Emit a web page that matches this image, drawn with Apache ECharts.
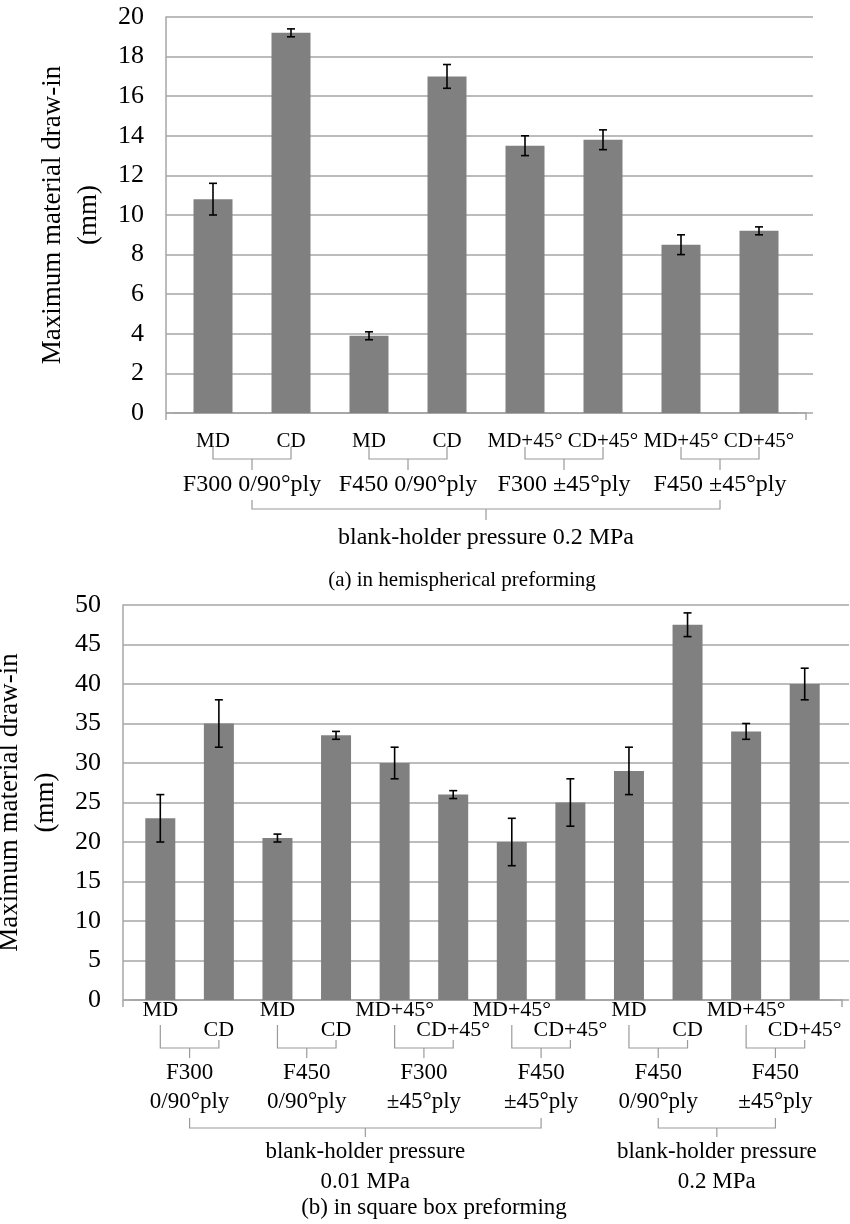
<!DOCTYPE html>
<html><head><meta charset="utf-8">
<script src="https://cdn.jsdelivr.net/npm/echarts@6/dist/echarts.min.js"></script>
<style>html,body{margin:0;padding:0;background:#fff}#c{width:850px;height:1224px}</style>
</head><body><div id="c"></div>
<script>
// ---------- data ----------
const yTitle = 'Maximum material draw-in\n(mm)';
// (a) hemispherical preforming
const catsA = ['MD','CD','MD','CD','MD+45°','CD+45°','MD+45°','CD+45°'];
const valsA = [10.8, 19.2, 3.9, 17.0, 13.5, 13.8, 8.5, 9.2];
const errA  = [0.8, 0.2, 0.2, 0.6, 0.5, 0.5, 0.5, 0.2];
const groupsA = ['F300 0/90°ply','F450 0/90°ply','F300 ±45°ply','F450 ±45°ply'];
const pressureA = 'blank-holder pressure 0.2 MPa';
const captionA = '(a) in hemispherical preforming';
const yMinA = 0, yMaxA = 20, yStepA = 2;
// (b) square box preforming
const catsB = ['MD','CD','MD','CD','MD+45°','CD+45°','MD+45°','CD+45°','MD','CD','MD+45°','CD+45°'];
const valsB = [23, 35, 20.5, 33.5, 30, 26, 20, 25, 29, 47.5, 34, 40];
const errB  = [3, 3, 0.5, 0.5, 2, 0.5, 3, 3, 3, 1.5, 1, 2];
const groupsB = ['F300\n0/90°ply','F450\n0/90°ply','F300\n±45°ply','F450\n±45°ply','F450\n0/90°ply','F450\n±45°ply'];
const pressuresB = ['blank-holder pressure\n0.01 MPa','blank-holder pressure\n0.2 MPa'];
const pressureSpanB = [[0,3],[4,5]];
const captionB = '(b) in square box preforming';
const yMinB = 0, yMaxB = 50, yStepB = 5;

// ---------- style ----------
const FONT = "'Liberation Serif','Times New Roman',serif";
const BAR_C = '#808080', GRID_C = '#a6a6a6', BR_C = '#9a9a9a';

const chart = echarts.init(document.getElementById('c'), null, {renderer:'canvas'});

function errRender(params, api){
  const x = api.value(0), lo = api.value(1), hi = api.value(2);
  const a = api.coord([x, lo]), b = api.coord([x, hi]);
  const c = 4;
  const st = {stroke:'#000', lineWidth:1.6};
  return {type:'group', children:[
    {type:'line', shape:{x1:a[0],y1:a[1],x2:b[0],y2:b[1]}, style:st},
    {type:'line', shape:{x1:a[0]-c,y1:a[1],x2:a[0]+c,y2:a[1]}, style:st},
    {type:'line', shape:{x1:b[0]-c,y1:b[1],x2:b[0]+c,y2:b[1]}, style:st}
  ]};
}
function yAx(grid, min, max, step, gap){
  const tickStyle = {color:GRID_C, width:1.5};
  return [{
    gridIndex:grid, type:'value', min:min, max:max, interval:step, offset:8,
    axisLine:{show:true, lineStyle:{color:GRID_C, width:1.5}},
    axisTick:{show:true, inside:true, length:8, lineStyle:tickStyle},
    splitLine:{lineStyle:{color:GRID_C, width:1.5}},
    axisLabel:{fontSize:26, fontFamily:FONT, color:'#000', margin:22},
    name:yTitle, nameLocation:'middle', nameRotate:90, nameGap:gap,
    nameTextStyle:{fontSize:27, fontFamily:FONT, color:'#000', lineHeight:36}
  },{
    gridIndex:grid, type:'value', min:min, max:max, interval:step, offset:8,
    axisLine:{show:false}, axisLabel:{show:false}, splitLine:{show:false},
    axisTick:{show:true, inside:false, length:7, lineStyle:tickStyle}
  },{
    gridIndex:grid, type:'value', position:'right', min:min, max:max, interval:step, offset:8,
    axisLine:{show:false}, axisLabel:{show:false}, splitLine:{show:false},
    axisTick:{show:true, inside:true, length:8, lineStyle:tickStyle}
  }];
}

const option = {
  animation:false,
  backgroundColor:'#fff',
  grid:[
    {left:174, width:624, top:17, height:396, containLabel:false, outerBoundsMode:'none'},
    {left:131, width:703, top:605, height:395, containLabel:false, outerBoundsMode:'none'}
  ],
  xAxis:[
    {gridIndex:0, type:'category', data:catsA,
     axisLine:{lineStyle:{color:GRID_C, width:1.5}}, axisTick:{show:false},
     axisLabel:{interval:0, hideOverlap:false, fontSize:21, fontFamily:FONT, color:'#000', margin:17, lineHeight:22}},
    {gridIndex:1, type:'category', data:catsB,
     axisLine:{lineStyle:{color:GRID_C, width:1.5}}, axisTick:{show:false},
     axisLabel:{interval:0, hideOverlap:false, fontSize:22, fontFamily:FONT, color:'#000', margin:0, lineHeight:20,
       formatter:(v,i)=> (i%2===0 ? v : '\n'+v)}}
  ],
  yAxis:[].concat(yAx(0,yMinA,yMaxA,yStepA,47), yAx(1,yMinB,yMaxB,yStepB,47)),
  series:[
    {type:'bar', xAxisIndex:0, yAxisIndex:0, data:valsA, barWidth:39, itemStyle:{color:BAR_C}},
    {type:'custom', xAxisIndex:0, yAxisIndex:0, renderItem:errRender, z:10,
     encode:{x:0, y:[1,2]}, data:valsA.map((v,i)=>[i, v-errA[i], v+errA[i]])},
    {type:'bar', xAxisIndex:1, yAxisIndex:3, data:valsB, barWidth:30, itemStyle:{color:BAR_C}},
    {type:'custom', xAxisIndex:1, yAxisIndex:3, renderItem:errRender, z:10,
     encode:{x:0, y:[1,2]}, data:valsB.map((v,i)=>[i, v-errB[i], v+errB[i]])}
  ]
};
chart.setOption(option);

// ---------- annotations (brackets, group labels, captions) ----------
function px(axis, i){ return chart.convertToPixel({xAxisIndex:axis}, i); }
function bracket(x1, x2, yA1, yA2, yH, yT){
  const m = (x1+x2)/2;
  return [
    {type:'polyline', shape:{points:[[x1,yA1],[x1,yH],[x2,yH],[x2,yA2]]}, style:{stroke:BR_C, lineWidth:1.2, fill:null}},
    {type:'line', shape:{x1:m,y1:yH,x2:m,y2:yT}, style:{stroke:BR_C, lineWidth:1.2}}
  ];
}
function txt(x, y, text, size, lh){
  return {type:'text', x:x, y:y, style:{text:text, fontSize:size, fontFamily:FONT, fill:'#000',
    align:'center', verticalAlign:'middle', lineHeight:lh||size+4}};
}
function endTicks(xAxis, yAxis, n){
  const step = px(xAxis,1) - px(xAxis,0);
  const y0 = chart.convertToPixel({yAxisIndex:yAxis}, 0);
  const xl = px(xAxis,0) - step/2 - 8, xr = px(xAxis,n-1) + step/2 + 8;
  const st = {stroke:GRID_C, lineWidth:1.5};
  return [
    {type:'line', shape:{x1:xl,y1:y0,x2:xr,y2:y0}, style:st},
    {type:'line', shape:{x1:xl,y1:y0,x2:xl,y2:y0+7}, style:st},
    {type:'line', shape:{x1:xr,y1:y0-1,x2:xr,y2:y0+7}, style:st}
  ];
}
const g = [];
g.push(...endTicks(0, 0, catsA.length));
g.push(...endTicks(1, 3, catsB.length));
// chart (a)
const midA = [];
groupsA.forEach((name,k)=>{
  const x1 = px(0,2*k), x2 = px(0,2*k+1);
  midA.push((x1+x2)/2);
  g.push(...bracket(x1, x2, 447, 447, 459, 470));
  g.push(txt((x1+x2)/2, 485, name, 24));
});
g.push(...bracket(midA[0], midA[3], 500, 500, 509, 520));
g.push(txt((midA[0]+midA[3])/2, 538, pressureA, 24));
g.push(txt(462, 580, captionA, 21));
// chart (b)
const midB = [];
groupsB.forEach((name,k)=>{
  const x1 = px(1,2*k), x2 = px(1,2*k+1);
  midB.push((x1+x2)/2);
  g.push(...bracket(x1, x2, 1025, 1040, 1048, 1058));
  g.push(txt((x1+x2)/2, 1087.5, name, 23, 29));
});
pressureSpanB.forEach((s,j)=>{
  const a = midB[s[0]], b = midB[s[1]];
  g.push(...bracket(a, b, 1118, 1118, 1128, 1137));
  g.push(txt((a+b)/2, 1166.5, pressuresB[j], 23, 30));
});
g.push(txt(434, 1208, captionB, 23));
chart.setOption({graphic:{elements:g}});
</script>
</body></html>
